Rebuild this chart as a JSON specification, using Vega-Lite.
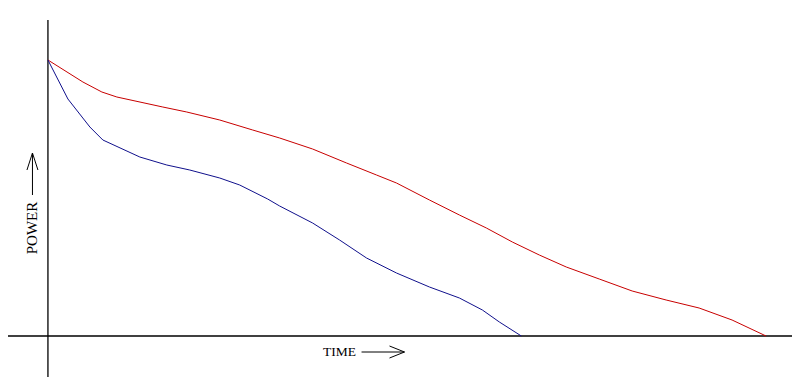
{
  "$schema": "https://vega.github.io/schema/vega-lite/v6.json",
  "width": 793,
  "height": 383,
  "autosize": {"type": "fit", "contains": "padding"},
  "padding": 0,
  "background": "white",
  "config": {"view": {"stroke": null}},
  "datasets": {
    "rules": [
      {"name": "yaxis", "t": 0, "p": -41, "t2": 0, "p2": 316, "w": "axis"},
      {"name": "xaxis", "t": -40, "p": 0, "t2": 745, "p2": 0, "w": "axis"},
      {"name": "up-shaft", "t": -15.5, "p": 141, "t2": -15.5, "p2": 183, "w": "arrow"},
      {"name": "up-head-l", "t": -21, "p": 166, "t2": -15.5, "p2": 183, "w": "arrow"},
      {"name": "up-head-r", "t": -10, "p": 166, "t2": -15.5, "p2": 183, "w": "arrow"},
      {"name": "right-shaft", "t": 314, "p": -16, "t2": 357, "p2": -16, "w": "arrow"},
      {"name": "right-head-t", "t": 342, "p": -10, "t2": 357, "p2": -16, "w": "arrow"},
      {"name": "right-head-b", "t": 342, "p": -22, "t2": 357, "p2": -16, "w": "arrow"}
    ],
    "curves": [
      {"series": "red", "t": 0, "p": 276},
      {"series": "red", "t": 35, "p": 254},
      {"series": "red", "t": 54, "p": 244},
      {"series": "red", "t": 69, "p": 239},
      {"series": "red", "t": 115, "p": 229},
      {"series": "red", "t": 139, "p": 224},
      {"series": "red", "t": 172, "p": 216},
      {"series": "red", "t": 205, "p": 206},
      {"series": "red", "t": 232, "p": 198},
      {"series": "red", "t": 265, "p": 187},
      {"series": "red", "t": 299, "p": 173},
      {"series": "red", "t": 329, "p": 161},
      {"series": "red", "t": 349, "p": 153},
      {"series": "red", "t": 382, "p": 136},
      {"series": "red", "t": 412, "p": 121},
      {"series": "red", "t": 439, "p": 108},
      {"series": "red", "t": 465, "p": 94},
      {"series": "red", "t": 492, "p": 81},
      {"series": "red", "t": 519, "p": 69},
      {"series": "red", "t": 552, "p": 57},
      {"series": "red", "t": 585, "p": 45},
      {"series": "red", "t": 619, "p": 36},
      {"series": "red", "t": 652, "p": 28},
      {"series": "red", "t": 685, "p": 16},
      {"series": "red", "t": 719, "p": 0},
      {"series": "blue", "t": 0, "p": 276},
      {"series": "blue", "t": 20, "p": 237},
      {"series": "blue", "t": 42, "p": 209},
      {"series": "blue", "t": 55, "p": 196},
      {"series": "blue", "t": 92, "p": 179},
      {"series": "blue", "t": 119, "p": 171},
      {"series": "blue", "t": 142, "p": 166},
      {"series": "blue", "t": 172, "p": 158},
      {"series": "blue", "t": 192, "p": 151},
      {"series": "blue", "t": 220, "p": 137},
      {"series": "blue", "t": 232, "p": 130},
      {"series": "blue", "t": 265, "p": 113},
      {"series": "blue", "t": 292, "p": 96},
      {"series": "blue", "t": 319, "p": 78},
      {"series": "blue", "t": 349, "p": 63},
      {"series": "blue", "t": 382, "p": 49},
      {"series": "blue", "t": 412, "p": 38},
      {"series": "blue", "t": 435, "p": 26},
      {"series": "blue", "t": 452, "p": 14},
      {"series": "blue", "t": 474, "p": 0}
    ],
    "labels": [
      {"label": "POWER", "t": -15.5, "p": 108, "angle": 270, "size": 15},
      {"label": "TIME", "t": 292, "p": -16, "angle": 0, "size": 13.5}
    ]
  },
  "layer": [
    {
      "data": {"name": "rules"},
      "mark": {"type": "rule", "color": "black"},
      "encoding": {
        "x": {"field": "t", "type": "quantitative", "scale": {"domain": [-48, 745], "nice": false, "zero": false}, "axis": null},
        "x2": {"field": "t2"},
        "y": {"field": "p", "type": "quantitative", "scale": {"domain": [-47, 336], "nice": false, "zero": false}, "axis": null},
        "y2": {"field": "p2"},
        "strokeWidth": {"field": "w", "type": "nominal", "scale": {"domain": ["axis", "arrow"], "range": [1.3, 1]}, "legend": null}
      }
    },
    {
      "data": {"name": "curves"},
      "mark": {"type": "line", "interpolate": "linear", "strokeWidth": 1},
      "encoding": {
        "x": {"field": "t", "type": "quantitative", "scale": {"domain": [-48, 745], "nice": false, "zero": false}, "axis": null},
        "y": {"field": "p", "type": "quantitative", "scale": {"domain": [-47, 336], "nice": false, "zero": false}, "axis": null},
        "color": {"field": "series", "type": "nominal", "scale": {"domain": ["red", "blue"], "range": ["#c80000", "#10108c"]}, "legend": null}
      }
    },
    {
      "data": {"name": "labels"},
      "mark": {"type": "text", "font": "Liberation Serif", "color": "black", "align": "center", "baseline": "middle"},
      "encoding": {
        "x": {"field": "t", "type": "quantitative", "scale": {"domain": [-48, 745], "nice": false, "zero": false}, "axis": null},
        "y": {"field": "p", "type": "quantitative", "scale": {"domain": [-47, 336], "nice": false, "zero": false}, "axis": null},
        "text": {"field": "label"},
        "angle": {"field": "angle", "type": "quantitative", "scale": null},
        "size": {"field": "size", "type": "quantitative", "scale": null}
      }
    }
  ]
}
